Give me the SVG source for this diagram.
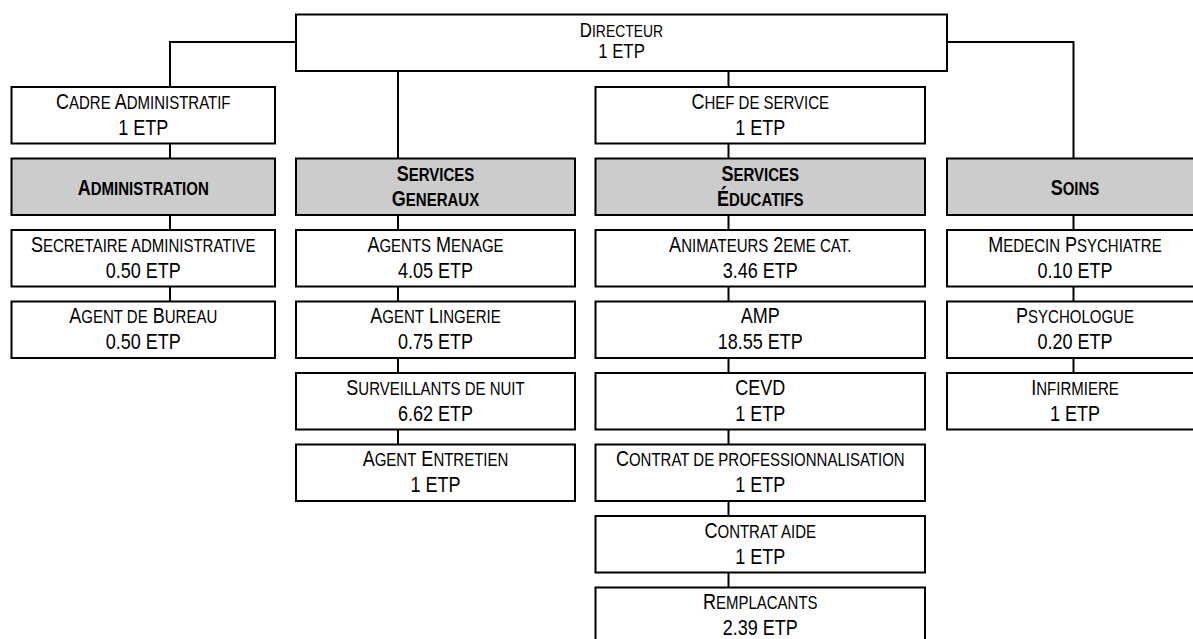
<svg xmlns="http://www.w3.org/2000/svg" width="1193" height="639" viewBox="0 0 1193 639">
<style>
.b{fill:#fff;stroke:#000;stroke-width:2}
.h{fill:#ccc;stroke:#000;stroke-width:2}
.c{stroke:#000;stroke-width:2;fill:none}
text{font-family:"Liberation Sans",Arial,sans-serif;font-size:22px;fill:#000;text-anchor:middle}
.s{font-size:18.3px}
.bd{font-weight:bold}
.d{font-size:20.5px}
.d .s{font-size:17px}
</style>
<rect x="0" y="0" width="1193" height="639" fill="#fff"/>
<g id="connectors">
<path class="c" d="M296 42H170V87M170 143.5V158.5M170 215V230M170 286.5V301.5"/>
<path class="c" d="M398 71V158.5M398 215V230M398 286.5V301.5M398 358V373M398 429.5V444.5"/>
<path class="c" d="M728.5 71V87M728.5 143.5V158.5M728.5 215V230M728.5 286.5V301.5M728.5 358V373M728.5 429.5V444.5M728.5 501V516M728.5 572.5V587.5"/>
<path class="c" d="M947 42H1073.5V158.5M1073.5 215V230M1073.5 286.5V301.5M1073.5 358V373"/>
</g>
<g id="directeur">
<rect class="b" x="296" y="14.5" width="651" height="56.5"/>
<text class="d" transform="matrix(0.82 0 0 1 621.5 0)" y="37">D<tspan class="s">IRECTEUR</tspan></text>
<text class="d" transform="matrix(0.82 0 0 1 621.5 0)" y="58.5">1 ETP</text>
</g>
<g id="cadre-administratif">
<rect class="b" x="11.5" y="87" width="263.5" height="56.5"/>
<text transform="matrix(0.82 0 0 1 143.25 0)" y="109">C<tspan class="s">ADRE</tspan> A<tspan class="s">DMINISTRATIF</tspan></text>
<text transform="matrix(0.82 0 0 1 143.25 0)" y="135">1 ETP</text>
</g>
<g id="administration">
<rect class="h" x="11.5" y="158.5" width="263.5" height="56.5"/>
<text class="bd" transform="matrix(0.82 0 0 1 143.25 0)" y="195">A<tspan class="s">DMINISTRATION</tspan></text>
</g>
<g id="secretaire">
<rect class="b" x="11.5" y="230" width="263.5" height="56.5"/>
<text transform="matrix(0.82 0 0 1 143.25 0)" y="252">S<tspan class="s">ECRETAIRE ADMINISTRATIVE</tspan></text>
<text transform="matrix(0.82 0 0 1 143.25 0)" y="278">0.50 ETP</text>
</g>
<g id="agent-bureau">
<rect class="b" x="11.5" y="301.5" width="263.5" height="56.5"/>
<text transform="matrix(0.82 0 0 1 143.25 0)" y="323.5">A<tspan class="s">GENT DE</tspan> B<tspan class="s">UREAU</tspan></text>
<text transform="matrix(0.82 0 0 1 143.25 0)" y="349.5">0.50 ETP</text>
</g>
<g id="services-generaux">
<rect class="h" x="296" y="158.5" width="279" height="56.5"/>
<text class="bd" transform="matrix(0.82 0 0 1 435.5 0)" y="181.5">S<tspan class="s">ERVICES</tspan></text>
<text class="bd" transform="matrix(0.82 0 0 1 435.5 0)" y="206.5">G<tspan class="s">ENERAUX</tspan></text>
</g>
<g id="agents-menage">
<rect class="b" x="296" y="230" width="279" height="56.5"/>
<text transform="matrix(0.82 0 0 1 435.5 0)" y="252">A<tspan class="s">GENTS</tspan> M<tspan class="s">ENAGE</tspan></text>
<text transform="matrix(0.82 0 0 1 435.5 0)" y="278">4.05 ETP</text>
</g>
<g id="agent-lingerie">
<rect class="b" x="296" y="301.5" width="279" height="56.5"/>
<text transform="matrix(0.82 0 0 1 435.5 0)" y="323.5">A<tspan class="s">GENT</tspan> L<tspan class="s">INGERIE</tspan></text>
<text transform="matrix(0.82 0 0 1 435.5 0)" y="349.5">0.75 ETP</text>
</g>
<g id="surveillants">
<rect class="b" x="296" y="373" width="279" height="56.5"/>
<text transform="matrix(0.82 0 0 1 435.5 0)" y="395">S<tspan class="s">URVEILLANTS DE NUIT</tspan></text>
<text transform="matrix(0.82 0 0 1 435.5 0)" y="421">6.62 ETP</text>
</g>
<g id="agent-entretien">
<rect class="b" x="296" y="444.5" width="279" height="56.5"/>
<text transform="matrix(0.82 0 0 1 435.5 0)" y="466.5">A<tspan class="s">GENT</tspan> E<tspan class="s">NTRETIEN</tspan></text>
<text transform="matrix(0.82 0 0 1 435.5 0)" y="492.5">1 ETP</text>
</g>
<g id="chef-service">
<rect class="b" x="595.5" y="87" width="329.5" height="56.5"/>
<text transform="matrix(0.82 0 0 1 760.25 0)" y="109">C<tspan class="s">HEF DE SERVICE</tspan></text>
<text transform="matrix(0.82 0 0 1 760.25 0)" y="135">1 ETP</text>
</g>
<g id="services-educatifs">
<rect class="h" x="595.5" y="158.5" width="329.5" height="56.5"/>
<text class="bd" transform="matrix(0.82 0 0 1 760.25 0)" y="181.5">S<tspan class="s">ERVICES</tspan></text>
<text class="bd" transform="matrix(0.82 0 0 1 760.25 0)" y="206.5">É<tspan class="s">DUCATIFS</tspan></text>
</g>
<g id="animateurs">
<rect class="b" x="595.5" y="230" width="329.5" height="56.5"/>
<text transform="matrix(0.82 0 0 1 760.25 0)" y="252">A<tspan class="s">NIMATEURS</tspan> 2<tspan class="s">EME CAT.</tspan></text>
<text transform="matrix(0.82 0 0 1 760.25 0)" y="278">3.46 ETP</text>
</g>
<g id="amp">
<rect class="b" x="595.5" y="301.5" width="329.5" height="56.5"/>
<text transform="matrix(0.82 0 0 1 760.25 0)" y="323.5">AMP</text>
<text transform="matrix(0.82 0 0 1 760.25 0)" y="349.5">18.55 ETP</text>
</g>
<g id="cevd">
<rect class="b" x="595.5" y="373" width="329.5" height="56.5"/>
<text transform="matrix(0.82 0 0 1 760.25 0)" y="395">CEVD</text>
<text transform="matrix(0.82 0 0 1 760.25 0)" y="421">1 ETP</text>
</g>
<g id="contrat-pro">
<rect class="b" x="595.5" y="444.5" width="329.5" height="56.5"/>
<text transform="matrix(0.82 0 0 1 760.25 0)" y="466.5">C<tspan class="s">ONTRAT DE PROFESSIONNALISATION</tspan></text>
<text transform="matrix(0.82 0 0 1 760.25 0)" y="492.5">1 ETP</text>
</g>
<g id="contrat-aide">
<rect class="b" x="595.5" y="516" width="329.5" height="56.5"/>
<text transform="matrix(0.82 0 0 1 760.25 0)" y="538">C<tspan class="s">ONTRAT AIDE</tspan></text>
<text transform="matrix(0.82 0 0 1 760.25 0)" y="564">1 ETP</text>
</g>
<g id="remplacants">
<rect class="b" x="595.5" y="587.5" width="329.5" height="60"/>
<text transform="matrix(0.82 0 0 1 760.25 0)" y="609.5">R<tspan class="s">EMPLACANTS</tspan></text>
<text transform="matrix(0.82 0 0 1 760.25 0)" y="635.5">2.39 ETP</text>
</g>
<g id="soins">
<rect class="h" x="947" y="158.5" width="260" height="56.5"/>
<text class="bd" transform="matrix(0.82 0 0 1 1075 0)" y="195">S<tspan class="s">OINS</tspan></text>
</g>
<g id="medecin">
<rect class="b" x="947" y="230" width="260" height="56.5"/>
<text transform="matrix(0.82 0 0 1 1075 0)" y="252">M<tspan class="s">EDECIN</tspan> P<tspan class="s">SYCHIATRE</tspan></text>
<text transform="matrix(0.82 0 0 1 1075 0)" y="278">0.10 ETP</text>
</g>
<g id="psychologue">
<rect class="b" x="947" y="301.5" width="260" height="56.5"/>
<text transform="matrix(0.82 0 0 1 1075 0)" y="323.5">P<tspan class="s">SYCHOLOGUE</tspan></text>
<text transform="matrix(0.82 0 0 1 1075 0)" y="349.5">0.20 ETP</text>
</g>
<g id="infirmiere">
<rect class="b" x="947" y="373" width="260" height="56.5"/>
<text transform="matrix(0.82 0 0 1 1075 0)" y="395">I<tspan class="s">NFIRMIERE</tspan></text>
<text transform="matrix(0.82 0 0 1 1075 0)" y="421">1 ETP</text>
</g>
</svg>
